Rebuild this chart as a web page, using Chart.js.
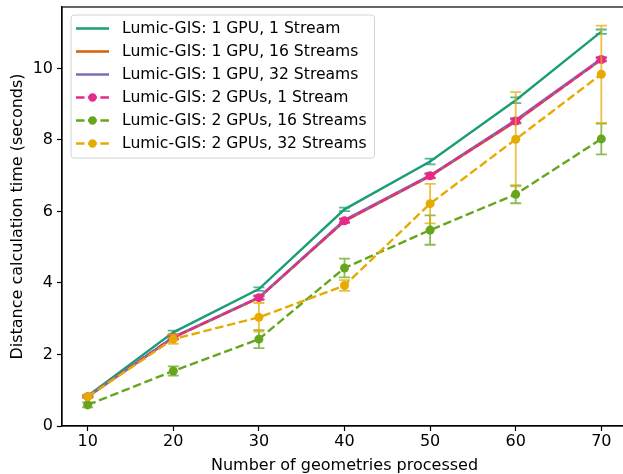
<!DOCTYPE html>
<html><head><meta charset="utf-8">
<script src="https://cdn.jsdelivr.net/npm/chart.js@4/dist/chart.umd.min.js"></script>
<style>html,body{margin:0;padding:0;overflow:hidden;background:#fff;width:623px;height:474px}
canvas{display:block}</style></head>
<body><canvas id="c" width="640" height="474"></canvas>
<script>
const xValues = [10, 20, 30, 40, 50, 60, 70];
const seriesLabels = [
  "Lumic-GIS: 1 GPU, 1 Stream",
  "Lumic-GIS: 1 GPU, 16 Streams",
  "Lumic-GIS: 1 GPU, 32 Streams",
  "Lumic-GIS: 2 GPUs, 1 Stream",
  "Lumic-GIS: 2 GPUs, 16 Streams",
  "Lumic-GIS: 2 GPUs, 32 Streams"
];
const gpu1Stream1   = [0.84, 2.62, 3.83, 6.06, 7.40, 9.11, 11.03];
const gpu1Stream16  = [0.82, 2.47, 3.58, 5.73, 6.99, 8.52, 10.25];
const gpu1Stream32  = [0.82, 2.49, 3.60, 5.76, 7.01, 8.56, 10.27];
const gpu2Stream1   = [0.82, 2.48, 3.59, 5.74, 7.00, 8.53, 10.25];
const gpu2Stream16  = [0.59, 1.54, 2.43, 4.42, 5.48, 6.48, 8.03];
const gpu2Stream32  = [0.82, 2.43, 3.04, 3.93, 6.22, 8.02, 9.84];
const err1Stream1   = [0.03, 0.05, 0.05, 0.05, 0.08, 0.08, 0.06];
const err1Stream16  = [0.02, 0.05, 0.05, 0.05, 0.06, 0.06, 0.05];
const err1Stream32  = [0.02, 0.05, 0.05, 0.05, 0.06, 0.06, 0.05];
const err2Stream1   = [0.02, 0.05, 0.05, 0.05, 0.06, 0.06, 0.05];
const err2Stream16  = [0.07, 0.13, 0.25, 0.26, 0.41, 0.25, 0.43];
const err2Stream32  = [0.03, 0.13, 0.40, 0.15, 0.55, 1.32, 1.36];
const xTicks = [10, 20, 30, 40, 50, 60, 70];
const yTicks = [0, 2, 4, 6, 8, 10];
const xTitle = "Number of geometries processed";
const yTitle = "Distance calculation time (seconds)";

const colors = ["#1b9e77", "#d95f02", "#7570b3", "#e7298a", "#66a61e", "#e6ab02"];
const allValues = [gpu1Stream1, gpu1Stream16, gpu1Stream32, gpu2Stream1, gpu2Stream16, gpu2Stream32];
const allErrs = [err1Stream1, err1Stream16, err1Stream32, err2Stream1, err2Stream16, err2Stream32];
const DASH = [8.5, 3.7];
const LW = 2.4;
const FS = 16;
const LFS = 15.6;
const FONT = "'DejaVu Sans', sans-serif";

function rgba(hex, a) {
  const n = parseInt(hex.slice(1), 16);
  return `rgba(${(n >> 16) & 255},${(n >> 8) & 255},${n & 255},${a})`;
}

const datasets = allValues.map((vals, i) => {
  const dashed = i >= 3;
  return {
    label: seriesLabels[i],
    data: vals.map((v, k) => ({ x: xValues[k], y: v })),
    errors: allErrs[i],
    borderColor: colors[i],
    backgroundColor: colors[i],
    borderWidth: LW,
    borderDash: dashed ? DASH : [],
    pointRadius: dashed ? 4.5 : 0,
    pointBorderWidth: 0,
    pointBackgroundColor: colors[i],
    tension: 0,
    fill: false,
    order: 5 - i,
    dashedStyle: dashed
  };
});

const errPlugin = {
  id: 'errbars',
  afterDatasetDraw(chart, args) {
    const ds = chart.data.datasets[args.index];
    if (!ds.errors) return;
    const ctx = chart.ctx, xs = chart.scales.x, ys = chart.scales.y;
    ctx.save();
    ctx.strokeStyle = rgba(ds.borderColor, 0.75);
    ctx.lineWidth = 1.8;
    ctx.setLineDash([]);
    ds.data.forEach((p, k) => {
      const e = ds.errors[k];
      const px = xs.getPixelForValue(p.x);
      const y1 = ys.getPixelForValue(p.y - e);
      const y2 = ys.getPixelForValue(p.y + e);
      ctx.beginPath();
      ctx.moveTo(px, y1); ctx.lineTo(px, y2);
      ctx.moveTo(px - 5.5, y1); ctx.lineTo(px + 5.5, y1);
      ctx.moveTo(px - 5.5, y2); ctx.lineTo(px + 5.5, y2);
      ctx.stroke();
    });
    ctx.restore();
  }
};

const framePlugin = {
  id: 'frame',
  afterDraw(chart) {
    const ctx = chart.ctx, a = chart.chartArea;
    ctx.save();
    ctx.strokeStyle = '#000';
    ctx.lineWidth = 1.2;
    ctx.strokeRect(a.left, a.top, a.right - a.left, a.bottom - a.top);
    // legend
    ctx.font = LFS + "px " + FONT;
    const dsets = chart.data.datasets;
    let maxW = 0;
    dsets.forEach(d => { maxW = Math.max(maxW, ctx.measureText(d.label).width); });
    const bx = a.left + 9, by = a.top + 8;
    const bw = 51 + maxW + 8, bh = 143;
    ctx.beginPath();
    ctx.roundRect(bx, by, bw, bh, 3);
    ctx.fillStyle = 'rgba(255,255,255,0.8)';
    ctx.fill();
    ctx.strokeStyle = '#d4d4d4';
    ctx.lineWidth = 1;
    ctx.stroke();
    dsets.forEach((d, i) => {
      const y = by + 13.5 + i * 23.0;
      ctx.strokeStyle = d.borderColor;
      ctx.lineWidth = LW;
      ctx.setLineDash(d.dashedStyle ? DASH : []);
      ctx.beginPath();
      ctx.moveTo(bx + 5, y); ctx.lineTo(bx + 38, y);
      ctx.stroke();
      ctx.setLineDash([]);
      if (d.dashedStyle) {
        ctx.fillStyle = d.borderColor;
        ctx.beginPath();
        ctx.arc(bx + 21.5, y, 4.2, 0, Math.PI * 2);
        ctx.fill();
      }
      ctx.fillStyle = '#000';
      ctx.textBaseline = 'middle';
      ctx.textAlign = 'left';
      ctx.fillText(d.label, bx + 51, y + 0.5);
    });
    ctx.restore();
  }
};

Chart.defaults.font.family = FONT;
Chart.defaults.font.size = FS;
Chart.defaults.color = '#000';

function zeroPad(s) { s.paddingTop = 0; s.paddingBottom = 0; s.paddingLeft = 0; s.paddingRight = 0; }

new Chart(document.getElementById('c'), {
  type: 'line',
  data: { datasets },
  options: {
    responsive: false,
    animation: false,
    devicePixelRatio: 1,
    layout: { padding: { top: 7, right: 13, left: 0, bottom: 0 } },
    plugins: { legend: { display: false }, tooltip: { enabled: false } },
    scales: {
      x: {
        type: 'linear', min: 7, max: 73,
        afterBuildTicks: s => { s.ticks = xTicks.map(v => ({ value: v })); },
        afterFit: s => { s.height = 48; zeroPad(s); },
        grid: { drawOnChartArea: false, drawTicks: true, tickLength: 5, color: '#000', tickWidth: 1.2 },
        border: { display: true, color: '#000', width: 1.2 },
        ticks: { padding: 1, color: '#000', font: { size: FS }, maxRotation: 0, autoSkip: false },
        title: { display: true, text: xTitle, color: '#000', font: { size: FS }, padding: { top: 0, bottom: -1 } }
      },
      y: {
        type: 'linear', min: 0, max: 11.72,
        afterBuildTicks: s => { s.ticks = yTicks.map(v => ({ value: v })); },
        afterFit: s => { s.width = 62; zeroPad(s); },
        grid: { drawOnChartArea: false, drawTicks: true, tickLength: 5, color: '#000', tickWidth: 1.2 },
        border: { display: true, color: '#000', width: 1.2 },
        ticks: { padding: 4, color: '#000', font: { size: FS }, autoSkip: false },
        title: { display: true, text: yTitle, color: '#000', font: { size: FS }, padding: { top: 8, bottom: 0 } }
      }
    }
  },
  plugins: [errPlugin, framePlugin]
});
</script>
</body></html>
